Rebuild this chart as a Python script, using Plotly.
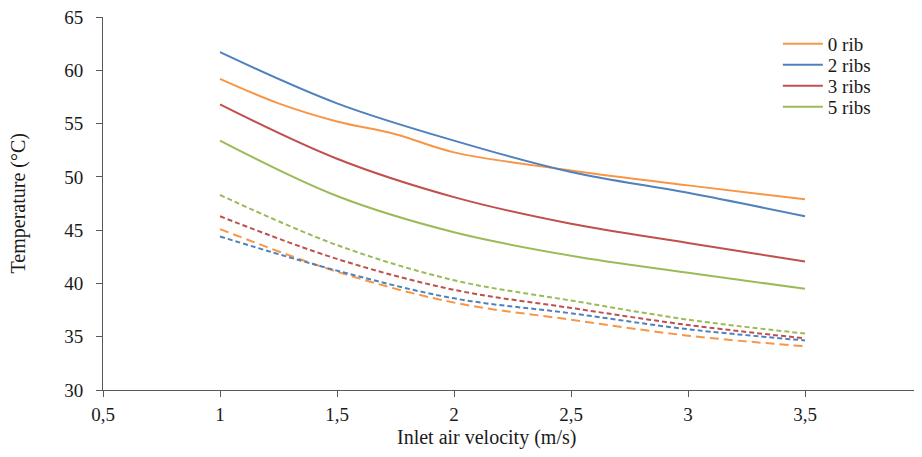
import plotly.graph_objects as go

velocity = [1, 1.5, 2, 2.5, 3, 3.5]
velocity_0rib = [1, 1.25, 1.5, 1.75, 2, 2.5, 3, 3.5]

# solid curves
solid_0rib = [59.2, 56.9, 55.2, 54.0, 52.3, 50.6, 49.2, 47.9]
solid_2ribs = [61.7, 56.9, 53.4, 50.45, 48.5, 46.3]
solid_3ribs = [56.8, 51.7, 48.1, 45.6, 43.8, 42.05]
solid_5ribs = [53.4, 48.2, 44.8, 42.6, 41.0, 39.5]

# dashed curves
dashed_0rib = [45.1, 41.1, 38.2, 36.6, 35.1, 34.1]
dashed_2ribs = [44.4, 41.2, 38.6, 37.2, 35.7, 34.65]
dashed_3ribs = [46.3, 42.3, 39.4, 37.7, 36.1, 34.85]
dashed_5ribs = [48.3, 43.6, 40.3, 38.4, 36.6, 35.3]

x_ticks = [0.5, 1, 1.5, 2, 2.5, 3, 3.5, 4]
x_ticktext = ["0,5", "1", "1,5", "2", "2,5", "3", "3,5", "4"]
y_ticks = [30, 35, 40, 45, 50, 55, 60, 65]

names = ["0 rib", "2 ribs", "3 ribs", "5 ribs"]
colors = ["#F79646", "#4F81BD", "#C0504D", "#9BBB59"]
legend_ids = ["legend", "legend2", "legend3", "legend4"]
legend_y = [0.9276, 0.8713, 0.8150, 0.7587]

font_family = "Liberation Serif, Times New Roman, serif"
txt = "#1a1a1a"

fig = go.Figure()
solid = [(velocity_0rib, solid_0rib), (velocity, solid_2ribs), (velocity, solid_3ribs), (velocity, solid_5ribs)]
for (xs, ys), n, c, lg in zip(solid, names, colors, legend_ids):
    fig.add_trace(go.Scatter(x=xs, y=ys, mode="lines", name=n, legend=lg,
                             line=dict(color=c, width=2, shape="spline", smoothing=1.0)))

dashed = [dashed_0rib, dashed_2ribs, dashed_3ribs, dashed_5ribs]
dash_styles = ["9px,5px", "5px,3px", "5px,3px", "5px,3px"]
for ys, n, c, d in zip(dashed, names, colors, dash_styles):
    fig.add_trace(go.Scatter(x=velocity, y=ys, mode="lines", name=n, showlegend=False,
                             line=dict(color=c, width=2, dash=d, shape="spline", smoothing=1.0)))

axis_common = dict(showline=True, linecolor="#595959", linewidth=1, ticks="outside",
                   ticklen=6, tickcolor="#595959", showgrid=False, zeroline=False,
                   ticklabeloverflow="allow", automargin=False,
                   tickfont=dict(family=font_family, size=19, color=txt))

legend_layouts = {}
for lg, ly in zip(legend_ids, legend_y):
    legend_layouts[lg] = dict(x=0.824, y=ly, xanchor="left", yanchor="middle",
                              font=dict(family=font_family, size=19, color=txt),
                              bgcolor="rgba(0,0,0,0)", itemwidth=40)

fig.update_layout(
    width=914, height=449,
    margin=dict(l=95, r=0, t=9, b=67),
    paper_bgcolor="white", plot_bgcolor="white",
    font=dict(family=font_family, size=19, color=txt),
    xaxis=dict(range=[0.5, 4], tickvals=x_ticks, ticktext=x_ticktext,
               ticklabelstandoff=1, **axis_common),
    yaxis=dict(range=[30, 65], tickvals=y_ticks, ticklabelstandoff=9, **axis_common),
    showlegend=True,
    annotations=[
        dict(text="Inlet air velocity (m/s)", xref="paper", yref="paper", x=0.468, y=0,
             xanchor="center", yanchor="middle", yshift=-47, showarrow=False,
             font=dict(family=font_family, size=20, color=txt)),
        dict(text="Temperature (°C)", xref="paper", yref="paper", x=0, y=0.5,
             xanchor="center", yanchor="middle", xshift=-85, textangle=-90, showarrow=False,
             font=dict(family=font_family, size=20, color=txt)),
    ],
    **legend_layouts,
)

fig.write_html("out.html")
